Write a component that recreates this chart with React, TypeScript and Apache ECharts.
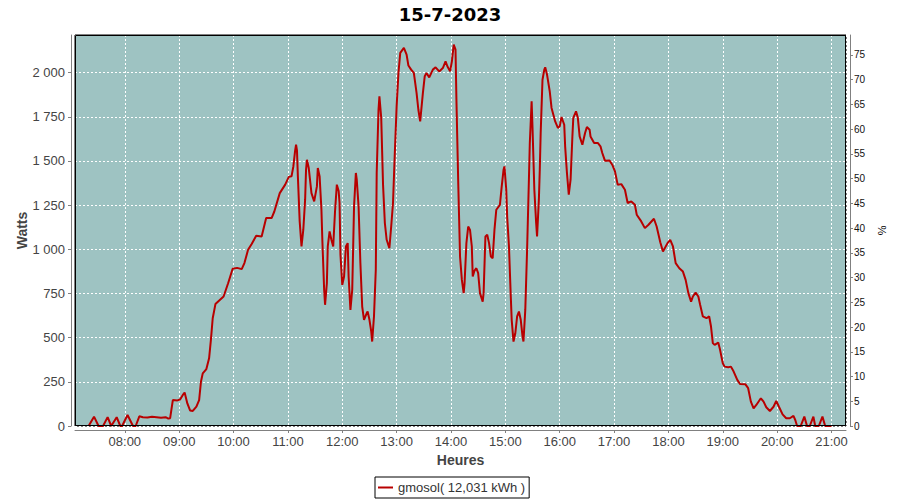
import React, { useEffect, useRef } from "react";
import * as echarts from "echarts";

const TITLE = "15-7-2023";
const SERIES_NAME = "gmosol( 12,031 kWh )";

const times: string[] = [
  "07:20", "07:26", "07:31", "07:36", "07:41", "07:45", "07:51", "07:55", "07:57", "08:03",
  "08:09", "08:12", "08:16", "08:20", "08:25", "08:30", "08:35", "08:40", "08:45", "08:48",
  "08:50", "08:53", "08:58", "09:01", "09:04", "09:06", "09:09", "09:12", "09:15", "09:19",
  "09:22", "09:24", "09:26", "09:30", "09:33", "09:35", "09:37", "09:40", "09:43", "09:49",
  "09:54", "09:59", "10:04", "10:09", "10:12", "10:16", "10:20", "10:25", "10:31", "10:36",
  "10:42", "10:45", "10:51", "10:57", "11:01", "11:04", "11:06", "11:08", "11:09", "11:10",
  "11:11", "11:13", "11:15", "11:17", "11:19", "11:20", "11:21", "11:23", "11:26", "11:29",
  "11:32", "11:33", "11:35", "11:37", "11:38", "11:40", "11:41", "11:43", "11:44", "11:46",
  "11:48", "11:50", "11:52", "11:54", "11:56", "11:57", "11:58", "12:00", "12:02", "12:04",
  "12:06", "12:07", "12:09", "12:11", "12:13", "12:15", "12:16", "12:18", "12:20", "12:22",
  "12:24", "12:27", "12:28", "12:30", "12:32", "12:33", "12:35", "12:37", "12:38", "12:40",
  "12:41", "12:43", "12:45", "12:47", "12:49", "12:52", "12:54", "12:56", "12:58", "13:00",
  "13:02", "13:04", "13:08", "13:11", "13:13", "13:16", "13:19", "13:22", "13:24", "13:26",
  "13:29", "13:31", "13:33", "13:36", "13:40", "13:43", "13:47", "13:51", "13:54", "13:56",
  "13:59", "14:01", "14:03", "14:05", "14:06", "14:08", "14:10", "14:12", "14:14", "14:15",
  "14:17", "14:19", "14:21", "14:23", "14:24", "14:26", "14:28", "14:30", "14:32", "14:35",
  "14:36", "14:38", "14:40", "14:42", "14:44", "14:46", "14:48", "14:50", "14:54", "14:56",
  "14:58", "14:59", "15:01", "15:02", "15:04", "15:06", "15:07", "15:09", "15:11", "15:13",
  "15:15", "15:17", "15:19", "15:20", "15:22", "15:24", "15:26", "15:27", "15:29", "15:30",
  "15:32", "15:34", "15:35", "15:37", "15:38", "15:39", "15:41", "15:43", "15:44", "15:46",
  "15:49", "15:51", "15:55", "15:58", "16:00", "16:02", "16:05", "16:06", "16:08", "16:10",
  "16:12", "16:14", "16:15", "16:18", "16:20", "16:22", "16:25", "16:28", "16:30", "16:33",
  "16:34", "16:38", "16:42", "16:45", "16:47", "16:50", "16:55", "16:58", "17:01", "17:04",
  "17:08", "17:12", "17:15", "17:19", "17:23", "17:25", "17:30", "17:34", "17:38", "17:44",
  "17:47", "17:51", "17:54", "17:59", "18:02", "18:05", "18:08", "18:12", "18:16", "18:19",
  "18:22", "18:25", "18:27", "18:30", "18:33", "18:35", "18:38", "18:42", "18:45", "18:47",
  "18:49", "18:51", "18:55", "18:57", "19:00", "19:02", "19:06", "19:09", "19:12", "19:16",
  "19:19", "19:25", "19:28", "19:31", "19:34", "19:37", "19:42", "19:45", "19:48", "19:52",
  "19:56", "19:59", "20:02", "20:06", "20:10", "20:14", "20:18", "20:20", "20:22", "20:26",
  "20:30", "20:33", "20:36", "20:40", "20:42", "20:46", "20:50", "20:53", "21:00",
];

const watts: number[] = [
  0, 53, 0, 0, 50, 0, 50, 0, 0, 62,
  0, 0, 55, 50, 48, 52, 50, 47, 50, 42,
  44, 147, 145, 150, 176, 189, 128, 88, 85, 110,
  147, 250, 298, 322, 383, 487, 610, 690, 705, 733,
  808, 890, 895, 888, 922, 997, 1030, 1077, 1073, 1177,
  1177, 1214, 1318, 1366, 1410, 1413, 1469, 1560, 1592, 1560,
  1413, 1158, 1016, 1111, 1281, 1450, 1507, 1460, 1318, 1271,
  1356, 1460, 1413, 1224, 1054, 771, 686, 808, 1016, 1101,
  1054, 1016, 1214, 1366, 1330, 1262, 969, 799, 846, 1016,
  1035, 846, 657, 771, 1243, 1432, 1394, 1243, 922, 676,
  601, 639, 648, 601, 534, 478, 620, 884, 1432, 1790,
  1866, 1744, 1366, 1149, 1054, 1007, 1129, 1262, 1545, 1809,
  1998, 2112, 2140, 2102, 2040, 2017, 1998, 1885, 1790, 1724,
  1885, 1979, 1998, 1973, 2017, 2030, 2007, 2026, 2064, 2036,
  2007, 2064, 2159, 2130, 1847, 1375, 959, 827, 752, 808,
  1035, 1129, 1110, 1016, 846, 880, 893, 865, 752, 704,
  752, 1073, 1082, 1035, 959, 950, 1111, 1224, 1252, 1356,
  1450, 1469, 1337, 1186, 1016, 733, 601, 478, 525, 620,
  648, 601, 506, 478, 657, 997, 1394, 1602, 1838, 1687,
  1337, 1149, 1073, 1281, 1450, 1659, 1960, 2017, 2030, 1989,
  1894, 1800, 1724, 1687, 1696, 1749, 1705, 1583, 1432, 1309,
  1394, 1639, 1744, 1781, 1744, 1639, 1592, 1658, 1692, 1677,
  1639, 1602, 1602, 1583, 1545, 1501, 1503, 1479, 1441, 1366,
  1369, 1337, 1262, 1271, 1252, 1196, 1158, 1120, 1139, 1173,
  1129, 1040, 988, 1035, 1054, 1016, 922, 893, 874, 827,
  752, 704, 733, 755, 733, 686, 620, 610, 620, 563,
  469, 459, 472, 431, 355, 336, 333, 336, 308, 261,
  238, 236, 214, 138, 100, 119, 157, 138, 106, 85,
  109, 142, 109, 66, 44, 44, 57, 34, 0, 0,
  53, 0, 0, 53, 0, 0, 53, 0, 0,
];

const X_MIN = "07:05";
const X_MAX = "21:16";
const WATTS_MAX = 2213;
const WATTS_STEP = 250;
const PCT_MAX = 79;
const PCT_STEP = 5;

function toTs(hhmm: string): number {
  const [h, m] = hhmm.split(":").map(Number);
  return new Date(2023, 6, 15, h, m, 0).getTime();
}
function pad(n: number) {
  return n < 10 ? "0" + n : "" + n;
}
function fmtThousands(v: number): string {
  const s = String(Math.round(v));
  return s.replace(/\B(?=(\d{3})+(?!\d))/g, " ");
}

export default function App() {
  const ref = useRef<HTMLDivElement>(null);
  useEffect(() => {
    if (!ref.current) return;
    const chart = echarts.init(ref.current, undefined, { renderer: "svg" });
    const data = times.map((t, i) => [toTs(t), watts[i]]);
    const labelFont = "'Liberation Sans', Arial, sans-serif";
    const splitLineStyle = { color: "#ffffff", width: 1, type: [2, 2] as any };
    chart.setOption({
      animation: false,
      backgroundColor: "#ffffff",
      title: {
        text: TITLE,
        left: "center",
        top: 0,
        textStyle: {
          fontFamily: "'DejaVu Sans', sans-serif",
          fontWeight: "bold",
          fontSize: 18,
          color: "#000000",
        },
      },
      legend: {
        left: 375,
        top: 477,
        orient: "horizontal",
        icon: "rect",
        itemWidth: 15,
        itemHeight: 2,
        borderColor: "#000000",
        borderWidth: 1,
        borderRadius: 0,
        padding: [3, 4, 3, 3],
        textStyle: {
          fontFamily: labelFont,
          fontSize: 13,
          color: "#333333",
          lineHeight: 15,
        },
        data: [SERIES_NAME],
      },
      grid: {
        left: 75,
        right: 54,
        top: 35,
        bottom: 74,
        show: true,
        backgroundColor: "#9ec3c2",
        borderColor: "#000000",
        borderWidth: 1,
        containLabel: false,
      },
      graphic: [
        {
          type: "rect",
          z: 100,
          silent: true,
          shape: { x: 75.5, y: 35.5, width: 770, height: 390 },
          style: { fill: "none", stroke: "#000000", lineWidth: 1 },
        },
      ],
      xAxis: {
        type: "time",
        min: toTs(X_MIN),
        max: toTs(X_MAX),
        minInterval: 3600 * 1000,
        maxInterval: 3600 * 1000,
        offset: 4,
        name: "Heures",
        nameLocation: "middle",
        nameGap: 23,
        nameMoveOverlap: false,
        nameTextStyle: {
          fontFamily: labelFont,
          fontWeight: "bold",
          fontSize: 14,
          color: "#444444",
        },
        axisLine: { show: true, onZero: false, lineStyle: { color: "#808080", width: 1 } },
        axisTick: { show: true, length: 3, lineStyle: { color: "#808080" } },
        axisLabel: {
          fontFamily: labelFont,
          fontSize: 13,
          color: "#444444",
          margin: 5,
          hideOverlap: false,
          formatter: (v: number) => {
            const d = new Date(v);
            return pad(d.getHours()) + ":" + pad(d.getMinutes());
          },
        },
        splitLine: { show: true, lineStyle: splitLineStyle },
      },
      yAxis: [
        {
          type: "value",
          min: 0,
          max: WATTS_MAX,
          interval: WATTS_STEP,
          position: "left",
          offset: 4,
          name: "Watts",
          nameLocation: "middle",
          nameGap: 42,
          nameMoveOverlap: false,
          nameTextStyle: {
            fontFamily: labelFont,
            fontWeight: "bold",
            fontSize: 14,
            color: "#444444",
          },
          axisLine: { show: true, lineStyle: { color: "#808080", width: 1 } },
          axisTick: { show: true, length: 3, lineStyle: { color: "#808080" } },
          axisLabel: {
            fontFamily: labelFont,
            fontSize: 13,
            color: "#444444",
            margin: 6,
            showMaxLabel: false,
            formatter: (v: number) => (v % WATTS_STEP === 0 ? fmtThousands(v) : ""),
          },
          splitLine: { show: true, lineStyle: splitLineStyle },
        },
        {
          type: "value",
          min: 0,
          max: PCT_MAX,
          interval: PCT_STEP,
          position: "right",
          offset: 4,
          name: "%",
          nameLocation: "middle",
          nameGap: 25,
          nameRotate: -90,
          nameTextStyle: {
            fontFamily: labelFont,
            fontSize: 11,
            color: "#000000",
          },
          axisLine: { show: true, lineStyle: { color: "#808080", width: 1 } },
          axisTick: { show: true, length: 3, lineStyle: { color: "#808080" } },
          axisLabel: {
            fontFamily: labelFont,
            fontSize: 10,
            color: "#111111",
            margin: 4,
            showMaxLabel: false,
            formatter: (v: number) => (v % PCT_STEP === 0 ? String(v) : ""),
          },
          splitLine: { show: false },
        },
      ],
      series: [
        {
          name: SERIES_NAME,
          type: "line",
          yAxisIndex: 0,
          data,
          showSymbol: false,
          symbol: "none",
          lineStyle: { color: "#b80000", width: 2 },
          itemStyle: { color: "#b80000" },
          emphasis: { disabled: true },
        },
      ],
    });
    return () => chart.dispose();
  }, []);
  return (
    <div
      ref={ref}
      style={{ position: "fixed", left: 0, top: 0, width: 900, height: 500, background: "#fff" }}
    />
  );
}
